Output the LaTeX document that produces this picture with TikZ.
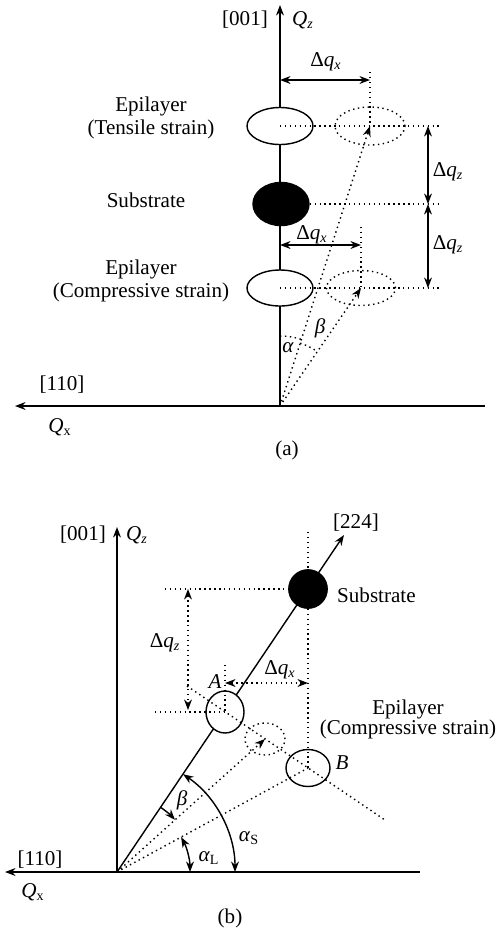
\documentclass[tikz,border=0pt]{standalone}
\usepackage{fontspec}
\setmainfont{Liberation Serif}
\usetikzlibrary{arrows.meta, shapes.geometric}
\newcommand{\dq}[1]{Δ\textit{q}\textsubscript{\textit{#1}}}

\begin{document}
\begin{tikzpicture}[x=0.2mm, y=0.2mm, >={Stealth[length=6pt,width=4.5pt]},
    font=\fontsize{12}{13}\selectfont,
    axis/.style={->, thick},
    peak/.style={ellipse, draw, thick, fill=white, inner sep=0pt},
    ghost/.style={ellipse, draw, dotted, thick, inner sep=0pt},
    guide/.style={dotted, thick},
    dim/.style={<->, thick},
    lbl/.style={align=center, inner sep=0pt}]
  \useasboundingbox (0,0) rectangle (495,-933);

  % (a) axes
  \coordinate (oa) at (280,-406);
  \coordinate (za) at (280,-5);
  \coordinate (xa) at (15,-406);
  \coordinate (ea) at (485,-406);
  \draw[axis] (oa) -- (za);
  \draw[axis] (ea) -- (xa);
  \node (l001a) at (245,-20) {[001]};
  \node (qza) at (303,-20) {\textit{Q}\textsubscript{\textit{z}}};
  \node (l110a) at (62,-385) {[110]};
  \node (qxa) at (60,-427) {\textit{Q}\textsubscript{x}};
  \node (capa) at (287,-450) {(a)};

  % (a) peaks
  \node[peak, minimum width=13.2mm, minimum height=7.4mm] (tens) at (280,-126) {};
  \node[peak, fill=black, minimum width=11.2mm, minimum height=8.6mm] (suba) at (281,-204) {};
  \node[peak, minimum width=13.2mm, minimum height=7.2mm] (comp) at (280,-288) {};
  \node[ghost, minimum width=14mm, minimum height=7.6mm] (tensdot) at (370,-126) {};
  \node[ghost, minimum width=13.8mm, minimum height=7mm] (compdot) at (361,-288) {};
  \node[lbl] (tenstxt) at (151,-118) {Epilayer\\(Tensile strain)};
  \node[lbl] (subtxt) at (146,-200) {Substrate};
  \node[lbl] (comptxt) at (141,-281) {Epilayer\\(Compressive strain)};

  % (a) guide lines
  \coordinate (ta) at (442,-126);
  \coordinate (sa) at (438,-204);
  \coordinate (ca) at (440,-288);
  \coordinate (va1) at (370,-72);
  \coordinate (va2) at (361,-227);
  \draw[guide] (tens.center) -- (ta);
  \draw[guide] (suba.east) -- (sa);
  \draw[guide] (comp.center) -- (ca);
  \draw[guide] (va1) -- (tensdot.center);
  \draw[guide] (va2) -- (compdot.center);
  \draw[guide,->] (oa) -- (tensdot.center);
  \draw[guide,->] (oa) -- (compdot.center);
  \draw[guide] (oa) ++(90:14mm) arc[start angle=90, end angle=72.2, radius=14mm];
  \draw[guide] (oa) ++(72.2:13.2mm) arc[start angle=72.2, end angle=55.5, radius=13.2mm];
  \node (alpha) at (288,-348) {\textit{α}};
  \node (beta) at (320,-328) {\textit{β}};

  % (a) dimensions
  \coordinate (dxa1) at (370,-80);
  \coordinate (dxa2) at (361,-245);
  \coordinate (dz1) at (428,-126);
  \coordinate (dz2) at (428,-204);
  \coordinate (dz3) at (428,-288);
  \draw[dim] (oa |- dxa1) -- (dxa1);
  \draw[dim] (oa |- dxa2) -- (dxa2);
  \draw[dim] (dz1) -- (dz2);
  \draw[dim] (dz2) -- (dz3);
  \node (dqxa1) at (326,-62) {\dq{x}};
  \node (dqxa2) at (312,-235) {\dq{x}};
  \node (dqza1) at (448,-172) {\dq{z}};
  \node (dqza2) at (448,-245) {\dq{z}};

  % (b) axes
  \coordinate (ob) at (117,-872);
  \coordinate (zb) at (117,-527);
  \coordinate (xb) at (5,-872);
  \coordinate (eb) at (420,-872);
  \coordinate (tb) at (344,-535);
  \draw[axis] (ob) -- (zb);
  \draw[axis] (eb) -- (xb);
  \draw[axis] (ob) -- (tb);
  \node (l001b) at (83,-535) {[001]};
  \node (qzb) at (137,-535) {\textit{Q}\textsubscript{\textit{z}}};
  \node (l224) at (356,-523) {[224]};
  \node (l110b) at (40,-860) {[110]};
  \node (qxb) at (33,-892) {\textit{Q}\textsubscript{x}};
  \node (capb) at (230,-918) {(b)};

  % (b) peaks
  \coordinate (vb) at (308,-532);
  \coordinate (hb) at (165,-589);
  \draw[guide] (vb) -- (308,-589);
  \draw[guide] (hb) -- (308,-589);
  \node[circle, draw, fill=black, minimum size=7.8mm, inner sep=0pt] (subb) at (308,-589) {};
  \node[peak, minimum width=7.6mm, minimum height=8.4mm] (A) at (225,-712) {};
  \node[ghost, minimum width=8mm, minimum height=6.4mm] (rel) at (265,-739) {};
  \node[peak, minimum width=8.8mm, minimum height=7.4mm] (B) at (308,-768) {};
  \node[anchor=west] (subbtxt) at (331,-595) {Substrate};
  \node[lbl] (epitxt) at (408,-719) {Epilayer\\[-1.7pt](Compressive strain)};
  \node (Atxt) at (215,-682) {\textit{A}};
  \node (Btxt) at (342,-763) {\textit{B}};

  % (b) guide lines
  \coordinate (pa) at (187,-686);
  \coordinate (pb) at (385,-820);
  \coordinate (ha) at (155,-712);
  \coordinate (va) at (225,-665);
  \draw[guide] (pa) -- (pb);
  \draw[guide] (subb) -- (B.center);
  \draw[guide] (ha) -- (A.center);
  \draw[guide] (va) -- (A.center);
  \draw[guide,->] (ob) -- (rel.center);
  \draw[guide] (ob) -- (B.center);

  % (b) dimensions
  \coordinate (dzb1) at (188,-589);
  \coordinate (dzb2) at (188,-710);
  \coordinate (dxb) at (308,-683);
  \draw[guide,<->] (dzb1) -- (dzb2);
  \draw[guide,<->] (A |- dxb) -- (dxb);
  \node (dqzb) at (165,-643) {\dq{z}};
  \node (dqxb) at (280,-670) {\dq{x}};

  % (b) angles
  \draw[dim] (ob) ++(0:23.6mm) arc[start angle=0, end angle=56, radius=23.6mm];
  \draw[dim] (ob) ++(0:14.6mm) arc[start angle=0, end angle=28.6, radius=14.6mm];
  \draw[->, thick] (ob) ++(56:15.6mm) arc[start angle=56, end angle=42, radius=15.6mm];
  \node (betab) at (182,-800) {\textit{β}};
  \node (aS) at (249,-838) {\textit{α}\textsubscript{S}};
  \node (aL) at (209,-858) {\textit{α}\textsubscript{L}};
\end{tikzpicture}
\end{document}
